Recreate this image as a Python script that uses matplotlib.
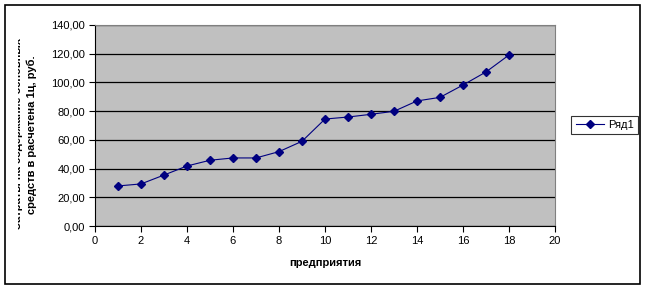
import matplotlib
matplotlib.use("Agg")
import matplotlib.pyplot as plt
from matplotlib.patches import Rectangle
from matplotlib.ticker import FuncFormatter
from matplotlib.transforms import Bbox

plt.rcParams["font.family"] = ["Liberation Sans", "DejaVu Sans"]

enterprises = list(range(1, 19))
costs = [27.9, 29.3, 35.5, 41.8, 45.8, 47.4, 47.4, 51.8, 59.0,
         74.5, 75.9, 77.8, 79.9, 87.1, 89.6, 98.2, 107.3, 119.1]
series_name = "Ряд1"
x_ticks = list(range(0, 21, 2))
y_ticks = [0, 20, 40, 60, 80, 100, 120, 140]

W, H = 645, 290
fig = plt.figure(figsize=(W / 100, H / 100), dpi=100)

# outer chart border
fig.patches.append(Rectangle((5 / W, 1 - 284 / H), 635 / W, 279 / H,
                             transform=fig.transFigure, fill=False,
                             edgecolor="black", linewidth=1.2))

ax = fig.add_axes([95 / W, 1 - 226 / H, 460 / W, 201 / H])
ax.set_facecolor("#C0C0C0")
for s in ax.spines.values():
    s.set_color("#808080")
ax.spines["left"].set_color("black")
ax.spines["bottom"].set_color("black")

ax.plot(enterprises, costs, color="#000080", linewidth=0.8,
        marker="D", markersize=4, label=series_name, zorder=3)

ax.set_xlim(0, 20)
ax.set_ylim(0, 140)
ax.set_xticks(x_ticks)
ax.set_yticks(y_ticks)
ax.yaxis.set_major_formatter(FuncFormatter(lambda v, p: f"{v:.2f}".replace(".", ",")))
ax.grid(axis="y", color="black", linewidth=0.9)
ax.set_axisbelow(True)
ax.tick_params(labelsize=8, length=4, width=0.8, direction="out", pad=3)

fig.text(325 / W, 1 - 263 / H, "предприятия", ha="center", va="center",
         fontsize=8, weight="bold")

# y label: first line is cut off in the original
t1 = fig.text(18.5 / W, 0.54, "Затраты на содержание основных", rotation=90,
              ha="center", va="center", fontsize=8, weight="bold")
t1.set_clip_on(True)
t1.set_clip_box(Bbox.from_extents(17.5, 0, W, H))
fig.text(32 / W, 0.535, "средств в расчетена 1ц, руб.", rotation=90,
         ha="center", va="center", fontsize=8, weight="bold")

leg = fig.legend(loc="center", bbox_to_anchor=(604.5 / W, 1 - 125 / H),
                 fontsize=8, frameon=True, fancybox=False, handlelength=2.6,
                 borderpad=0.4, handletextpad=0.3, borderaxespad=0)
leg.get_frame().set_edgecolor("black")
leg.get_frame().set_linewidth(0.8)

fig.savefig("out.png", dpi=100)
